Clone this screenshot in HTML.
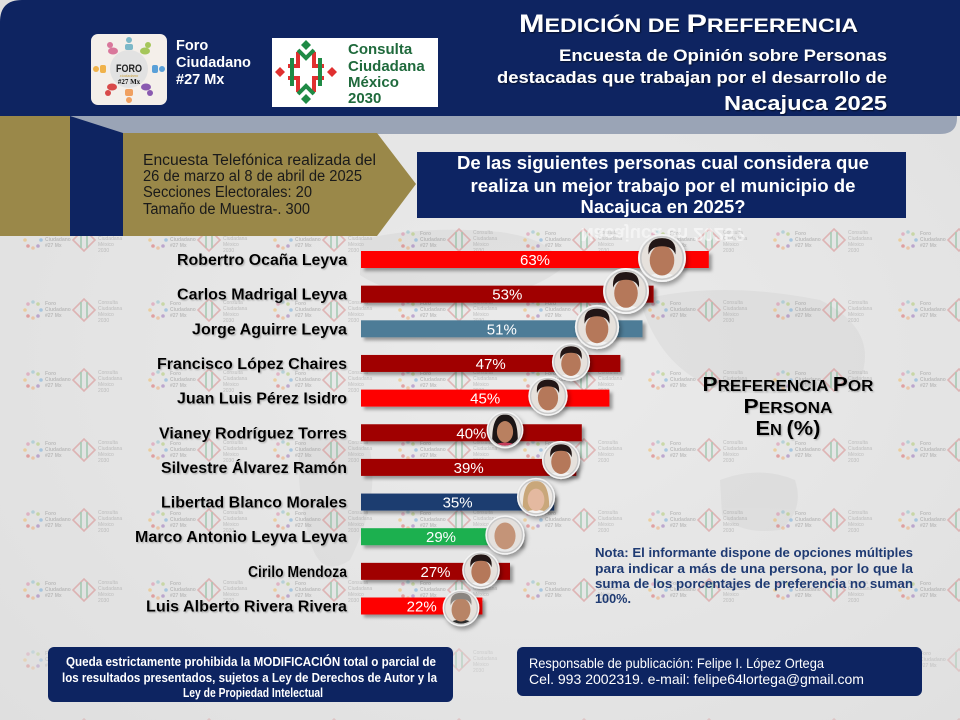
<!DOCTYPE html>
<html><head><meta charset="utf-8">
<style>html,body{margin:0;padding:0;width:960px;height:720px;overflow:hidden;background:#e5e5e5}svg{display:block}</style>
</head><body>
<svg width="960" height="720" viewBox="0 0 960 720" xmlns="http://www.w3.org/2000/svg" xmlns:xlink="http://www.w3.org/1999/xlink" font-family="'Liberation Sans', Arial, sans-serif">
<defs>
 <radialGradient id="bg" cx="0.55" cy="0.5" r="0.8"><stop offset="0" stop-color="#ebebeb"/><stop offset="1" stop-color="#dedede"/></radialGradient>
 <pattern id="wm" width="125" height="70" patternUnits="userSpaceOnUse" x="18" y="226">
  <g opacity="0.45">
   <circle cx="10" cy="8" r="1.8" fill="#d9779b"/><circle cx="15" cy="6" r="1.8" fill="#7cb8c8"/><circle cx="20" cy="8" r="1.8" fill="#a6c65a"/>
   <circle cx="7" cy="14" r="1.8" fill="#f0b24a"/><circle cx="23" cy="14" r="1.8" fill="#5aa0d8"/>
   <circle cx="10" cy="20" r="1.8" fill="#d84a4a"/><circle cx="15" cy="22" r="1.8" fill="#f0a060"/><circle cx="20" cy="20" r="1.8" fill="#8a5ab0"/>
   <text x="27" y="9" font-size="5" font-weight="bold" fill="#888">Foro</text>
   <text x="27" y="15" font-size="5" font-weight="bold" fill="#888">Ciudadano</text>
   <text x="27" y="21" font-size="5" font-weight="bold" fill="#888">#27 Mx</text>
   <path d="M66,3 L77,14 L66,25 L55,14Z" fill="none" stroke="#d47878" stroke-width="1.6"/>
   <path d="M63,6 V22 M69,6 V22" stroke="#5aa878" stroke-width="1.6"/>
   <text x="80" y="8" font-size="5" fill="#888">Consulta</text>
   <text x="80" y="14" font-size="5" fill="#888">Ciudadana</text>
   <text x="80" y="20" font-size="5" fill="#888">México</text>
   <text x="80" y="26" font-size="5" fill="#888">2030</text>
  </g>
 </pattern>
 <filter id="sh" x="-10%" y="-40%" width="130%" height="200%"><feDropShadow dx="3" dy="3" stdDeviation="1.5" flood-color="#000" flood-opacity="0.35"/></filter>
 <filter id="fsh" x="-40%" y="-40%" width="180%" height="180%"><feDropShadow dx="2" dy="3" stdDeviation="2" flood-color="#000" flood-opacity="0.35"/></filter>
 <filter id="tsh" x="-5%" y="-20%" width="110%" height="150%"><feDropShadow dx="1.2" dy="1.2" stdDeviation="0.7" flood-color="#999" flood-opacity="0.7"/></filter>
 <filter id="wsh" x="-5%" y="-20%" width="110%" height="150%"><feDropShadow dx="1" dy="1" stdDeviation="0.8" flood-color="#000" flood-opacity="0.6"/></filter>
 <clipPath id="fc"><circle r="17.5"/></clipPath>
 <g id="fm">
  <circle r="19.5" fill="#d8d8d8" stroke="#f4f4f4" stroke-width="2"/>
  <g clip-path="url(#fc)">
   <rect x="-20" y="-20" width="40" height="40" fill="#e6e1dc"/>
   <ellipse cx="0" cy="23" rx="18" ry="10" fill="#f2f2f2"/>
   <ellipse cx="0" cy="2" rx="10.5" ry="13" fill="#b5785a"/>
   <path d="M-11.5,-3 Q-13,-17 0,-17 Q13,-17 11.5,-3 Q9,-10 0,-10 Q-9,-10 -11.5,-3Z" fill="#221814"/>
  </g>
  <circle r="18.2" fill="none" stroke="#c8c8c8" stroke-width="1.4"/>
 </g>
 <g id="ff">
  <circle r="19.5" fill="#d8d8d8" stroke="#f4f4f4" stroke-width="2"/>
  <g clip-path="url(#fc)">
   <rect x="-20" y="-20" width="40" height="40" fill="#e6e1dc"/>
   <path d="M-14,20 Q-16,-18 0,-17 Q16,-18 14,20Z" fill="#1c1412"/>
   <ellipse cx="0" cy="23" rx="18" ry="9" fill="#c43a5a"/>
   <ellipse cx="0" cy="2" rx="9" ry="12" fill="#b98060"/>
  </g>
  <circle r="18.2" fill="none" stroke="#c8c8c8" stroke-width="1.4"/>
 </g>
 <g id="fb">
  <circle r="19.5" fill="#d8d8d8" stroke="#f4f4f4" stroke-width="2"/>
  <g clip-path="url(#fc)">
   <rect x="-20" y="-20" width="40" height="40" fill="#ece8e4"/>
   <path d="M-14,20 Q-16,-18 0,-17 Q16,-18 14,20Z" fill="#c9a77a"/>
   <ellipse cx="0" cy="23" rx="18" ry="9" fill="#f4f4f4"/>
   <ellipse cx="0" cy="3" rx="9" ry="12" fill="#e4b9a0"/>
  </g>
  <circle r="18.2" fill="none" stroke="#c8c8c8" stroke-width="1.4"/>
 </g>
 <g id="fz">
  <circle r="19.5" fill="#d8d8d8" stroke="#f4f4f4" stroke-width="2"/>
  <g clip-path="url(#fc)">
   <rect x="-20" y="-20" width="40" height="40" fill="#e4e0dc"/>
   <ellipse cx="0" cy="23" rx="18" ry="10" fill="#e8e8e8"/>
   <ellipse cx="0" cy="1" rx="11" ry="14" fill="#c49478"/>
  </g>
  <circle r="18.2" fill="none" stroke="#c8c8c8" stroke-width="1.4"/>
 </g>
 <g id="fg">
  <circle r="19.5" fill="#d8d8d8" stroke="#f4f4f4" stroke-width="2"/>
  <g clip-path="url(#fc)">
   <rect x="-20" y="-20" width="40" height="40" fill="#e6e1dc"/>
   <ellipse cx="0" cy="23" rx="18" ry="10" fill="#2a2a2a"/>
   <ellipse cx="0" cy="2" rx="10.5" ry="13" fill="#b88466"/>
   <path d="M-11.5,-3 Q-13,-17 0,-17 Q13,-17 11.5,-3 Q9,-10 0,-10 Q-9,-10 -11.5,-3Z" fill="#8a8580"/>
  </g>
  <circle r="18.2" fill="none" stroke="#c8c8c8" stroke-width="1.4"/>
 </g>
</defs>

<!-- background -->
<rect width="960" height="720" fill="url(#bg)"/>
<g fill="#d2d2d2" opacity="0.4">
 <path d="M360,240 Q420,225 500,232 Q560,240 560,270 Q520,300 450,300 Q390,295 360,275Z"/>
 <path d="M300,440 Q340,430 370,450 Q380,500 350,560 Q320,580 310,540 Q295,490 300,440Z"/>
 <path d="M640,300 Q720,280 820,300 Q880,330 860,380 Q800,400 720,390 Q660,370 640,300Z"/>
 <path d="M720,480 Q760,465 795,480 Q805,510 780,530 Q740,535 722,515Z"/>
</g>
<rect x="0" y="226" width="960" height="420" fill="url(#wm)"/>
<rect x="0" y="640" width="960" height="80" fill="url(#wm)" opacity="0.6"/>

<!-- header -->
<path d="M70,112 H957 V118 Q957,134 940,134 H70Z" fill="#9aa4b6"/>
<path d="M22,0 H960 V116 H0 V22 Q0,0 22,0Z" fill="#0e2461"/>
<rect x="0" y="116" width="70" height="120" fill="#9a8849"/>
<polygon points="70,116 123,133 123,236 70,236" fill="#0e2461"/>
<polygon points="123,133 377,133 416,184 377,236 123,236" fill="#9a8849"/>

<!-- Foro logo -->
<rect x="91" y="34" width="76" height="71" rx="7" fill="#f4efea"/>
<circle cx="129" cy="69" r="19" fill="#e2e2e2"/>
<g>
 <circle cx="110" cy="45" r="3" fill="#d9779b"/><ellipse cx="113" cy="51" rx="5" ry="3.5" fill="#d9779b"/>
 <circle cx="129" cy="40" r="3" fill="#7cb8c8"/><rect x="125" y="44" width="8" height="6" rx="2" fill="#7cb8c8"/>
 <circle cx="148" cy="45" r="3" fill="#a6c65a"/><ellipse cx="145" cy="51" rx="5" ry="3.5" fill="#a6c65a"/>
 <circle cx="96" cy="69" r="3" fill="#f0b24a"/><rect x="100" y="65" width="6" height="8" rx="2" fill="#f0b24a"/>
 <circle cx="162" cy="69" r="3" fill="#5aa0d8"/><rect x="152" y="65" width="6" height="8" rx="2" fill="#5aa0d8"/>
 <circle cx="108" cy="93" r="3" fill="#d84a4a"/><ellipse cx="112" cy="87" rx="5" ry="3.5" fill="#d84a4a"/>
 <circle cx="129" cy="100" r="3" fill="#f0a060"/><rect x="125" y="89" width="8" height="7" rx="2" fill="#f0a060"/>
 <circle cx="150" cy="93" r="3" fill="#8a5ab0"/><ellipse cx="146" cy="87" rx="5" ry="3.5" fill="#8a5ab0"/>
</g>
<text x="129" y="72" font-size="11" font-weight="bold" fill="#222" text-anchor="middle" textLength="26" lengthAdjust="spacingAndGlyphs">FORO</text>
<text x="129" y="77" font-size="4" fill="#c8a040" text-anchor="middle" font-style="italic">ciudadano</text>
<text x="129" y="84" font-size="7" font-weight="bold" fill="#111" text-anchor="middle" font-family="'Liberation Serif', serif">#27 Mx</text>
<text font-size="14.5" font-weight="bold" fill="#fff">
 <tspan x="176" y="50">Foro</tspan><tspan x="176" y="67">Ciudadano</tspan><tspan x="176" y="84">#27 Mx</tspan>
</text>

<!-- Consulta logo -->
<rect x="272" y="38" width="166" height="69" fill="#fff"/>
<g>
 <path d="M306,40 l5,5 l-5,5 l-5,-5Z M306,94 l5,5 l-5,5 l-5,-5Z" fill="#1f8a45"/>
 <path d="M275,72 l5,-5 l5,5 l-5,5Z M327,72 l5,-5 l5,5 l-5,5Z" fill="#e03030"/>
 <path d="M298,52 V66 H288 M314,52 V66 H324 M298,92 V78 H288 M314,92 V78 H324" fill="none" stroke="#e03030" stroke-width="4"/>
 <path d="M298,50 L306,58 L314,50 M298,94 L306,86 L314,94 M292,58 V86 M320,58 V86" fill="none" stroke="#1f8a45" stroke-width="4"/>
</g>
<text font-size="15" font-weight="bold" fill="#1f6a3c">
 <tspan x="348" y="54">Consulta</tspan><tspan x="348" y="71">Ciudadana</tspan><tspan x="348" y="87">México</tspan><tspan x="348" y="103">2030</tspan>
</text>

<!-- header title -->
<g filter="url(#wsh)" fill="#fff" font-weight="bold">
 <text x="519" y="32" textLength="339" lengthAdjust="spacingAndGlyphs"><tspan font-size="25">M</tspan><tspan font-size="19">EDICIÓN DE </tspan><tspan font-size="25">P</tspan><tspan font-size="19">REFERENCIA</tspan></text>
 <text x="887" y="61" font-size="17" text-anchor="end" textLength="328" lengthAdjust="spacingAndGlyphs">Encuesta de Opinión sobre Personas</text>
 <text x="887" y="83" font-size="17" text-anchor="end" textLength="390" lengthAdjust="spacingAndGlyphs">destacadas que trabajan por el desarrollo de</text>
 <text x="887" y="110" font-size="20.5" text-anchor="end" textLength="163" lengthAdjust="spacingAndGlyphs">Nacajuca 2025</text>
</g>

<!-- info text -->
<g font-size="15.5" fill="#1a1a1a">
 <text x="143" y="165" textLength="233" lengthAdjust="spacingAndGlyphs">Encuesta Telefónica realizada del</text>
 <text x="143" y="181" textLength="219" lengthAdjust="spacingAndGlyphs">26 de marzo al 8 de abril de 2025</text>
 <text x="143" y="197" textLength="169" lengthAdjust="spacingAndGlyphs">Secciones Electorales: 20</text>
 <text x="143" y="214" textLength="167" lengthAdjust="spacingAndGlyphs">Tamaño de Muestra-. 300</text>
</g>

<!-- question -->
<rect x="417" y="152" width="489" height="66" fill="#0d2463"/>
<g font-size="18" font-weight="bold" fill="#fff" text-anchor="middle">
 <text x="663" y="169" textLength="412" lengthAdjust="spacingAndGlyphs">De las siguientes personas cual considera que</text>
 <text x="663" y="192" textLength="385" lengthAdjust="spacingAndGlyphs">realiza un mejor trabajo por el municipio de</text>
 <text x="663" y="213" textLength="165" lengthAdjust="spacingAndGlyphs">Nacajuca en 2025?</text>
</g>
<text transform="translate(0,441) scale(1,-1)" x="663" y="213" font-size="18" font-weight="bold" fill="#fff" opacity="0.55" text-anchor="middle" textLength="165" lengthAdjust="spacingAndGlyphs">Nacajuca en 2025?</text>

<!-- bars -->
<g filter="url(#sh)">
 <rect x="361" y="251" width="347.8" height="17" fill="#fe0000"/>
 <rect x="361" y="285.65" width="292.6" height="17" fill="#a00000"/>
 <rect x="361" y="320.3" width="281.5" height="17" fill="#4d7b97"/>
 <rect x="361" y="354.95" width="259.4" height="17" fill="#a00000"/>
 <rect x="361" y="389.6" width="248.4" height="17" fill="#fe0000"/>
 <rect x="361" y="424.25" width="220.8" height="17" fill="#a00000"/>
 <rect x="361" y="458.9" width="215.3" height="17" fill="#a00000"/>
 <rect x="361" y="493.55" width="193.2" height="17" fill="#1f3c70"/>
 <rect x="361" y="528.2" width="160.1" height="17" fill="#1db04f"/>
 <rect x="361" y="562.85" width="149" height="17" fill="#a00000"/>
 <rect x="361" y="597.5" width="121.4" height="17" fill="#fe0000"/>
</g>
<g font-size="15" fill="#fff" text-anchor="middle">
 <text x="535" y="265">63%</text>
 <text x="507.3" y="299.6">53%</text>
 <text x="501.8" y="334.3">51%</text>
 <text x="490.7" y="369">47%</text>
 <text x="485.2" y="403.6">45%</text>
 <text x="471.4" y="438.3">40%</text>
 <text x="468.7" y="472.9">39%</text>
 <text x="457.6" y="507.6">35%</text>
 <text x="441" y="542.2">29%</text>
 <text x="435.5" y="576.9">27%</text>
 <text x="421.7" y="611.5">22%</text>
</g>

<!-- labels -->
<g font-size="16" font-weight="bold" fill="#000" text-anchor="end" filter="url(#tsh)">
 <text x="347" y="265" textLength="170" lengthAdjust="spacingAndGlyphs">Robertro Ocaña Leyva</text>
 <text x="347" y="299.6" textLength="170" lengthAdjust="spacingAndGlyphs">Carlos Madrigal Leyva</text>
 <text x="347" y="334.3" textLength="155" lengthAdjust="spacingAndGlyphs">Jorge Aguirre Leyva</text>
 <text x="347" y="369" textLength="190" lengthAdjust="spacingAndGlyphs">Francisco López Chaires</text>
 <text x="347" y="403.6" textLength="170" lengthAdjust="spacingAndGlyphs">Juan Luis Pérez Isidro</text>
 <text x="347" y="438.3" textLength="188" lengthAdjust="spacingAndGlyphs">Vianey Rodríguez Torres</text>
 <text x="347" y="472.9" textLength="186" lengthAdjust="spacingAndGlyphs">Silvestre Álvarez Ramón</text>
 <text x="347" y="507.6" textLength="186" lengthAdjust="spacingAndGlyphs">Libertad Blanco Morales</text>
 <text x="347" y="542.2" textLength="212" lengthAdjust="spacingAndGlyphs">Marco Antonio Leyva Leyva</text>
 <text x="347" y="576.9" textLength="99" lengthAdjust="spacingAndGlyphs">Cirilo Mendoza</text>
 <text x="347" y="611.5" textLength="201" lengthAdjust="spacingAndGlyphs">Luis Alberto Rivera Rivera</text>
</g>

<!-- faces -->
<g filter="url(#fsh)">
 <use xlink:href="#fm" href="#fm" transform="translate(662,258) scale(1.17)"/>
 <use xlink:href="#fm" href="#fm" transform="translate(626,291) scale(1.12)"/>
 <use xlink:href="#fm" href="#fm" transform="translate(597,327) scale(1.08)"/>
 <use xlink:href="#fm" href="#fm" transform="translate(571,362) scale(0.93)"/>
 <use xlink:href="#fm" href="#fm" transform="translate(548,396) scale(0.96)"/>
 <use xlink:href="#ff" href="#ff" transform="translate(505,430) scale(0.9)"/>
 <use xlink:href="#fm" href="#fm" transform="translate(561,460) scale(0.93)"/>
 <use xlink:href="#fb" href="#fb" transform="translate(536,497) scale(0.93)"/>
 <use xlink:href="#fz" href="#fz" transform="translate(505,535) scale(0.96)"/>
 <use xlink:href="#fm" href="#fm" transform="translate(481,570) scale(0.92)"/>
 <use xlink:href="#fg" href="#fg" transform="translate(461,608) scale(0.9)"/>
</g>

<!-- right title -->
<g font-weight="bold" fill="#000" text-anchor="middle" filter="url(#tsh)">
 <text x="788" y="391" textLength="171" lengthAdjust="spacingAndGlyphs"><tspan font-size="20.5">P</tspan><tspan font-size="15.5">REFERENCIA </tspan><tspan font-size="20.5">P</tspan><tspan font-size="15.5">OR</tspan></text>
 <text x="788" y="413" textLength="89" lengthAdjust="spacingAndGlyphs"><tspan font-size="20.5">P</tspan><tspan font-size="15.5">ERSONA</tspan></text>
 <text x="788" y="435" textLength="65" lengthAdjust="spacingAndGlyphs"><tspan font-size="20.5">E</tspan><tspan font-size="15.5">N </tspan><tspan font-size="20.5">(%)</tspan></text>
</g>

<!-- nota -->
<g font-size="13" font-weight="bold" fill="#1f3b73">
 <text x="595" y="557" textLength="318" lengthAdjust="spacingAndGlyphs">Nota: El informante dispone de opciones múltiples</text>
 <text x="595" y="573" textLength="318" lengthAdjust="spacingAndGlyphs">para indicar a más de una persona, por lo que la</text>
 <text x="595" y="588" textLength="318" lengthAdjust="spacingAndGlyphs">suma de los porcentajes de preferencia no suman</text>
 <text x="595" y="603" textLength="36" lengthAdjust="spacingAndGlyphs">100%.</text>
</g>

<!-- footer -->
<rect x="48" y="647" width="405" height="55" rx="6" fill="#0d2461"/>
<g font-size="12.5" font-weight="bold" fill="#fff">
 <text x="66" y="666" textLength="370" lengthAdjust="spacingAndGlyphs">Queda estrictamente prohibida la MODIFICACIÓN  total o parcial de</text>
 <text x="62" y="682" textLength="375" lengthAdjust="spacingAndGlyphs">los resultados presentados, sujetos a Ley de Derechos de Autor y la</text>
 <text x="253" y="697" text-anchor="middle" textLength="140" lengthAdjust="spacingAndGlyphs">Ley de Propiedad Intelectual</text>
</g>
<rect x="517" y="647" width="405" height="49" rx="6" fill="#0d2461"/>
<g font-size="14" fill="#fff">
 <text x="529" y="668" textLength="295" lengthAdjust="spacingAndGlyphs">Responsable de publicación: Felipe I. López Ortega</text>
 <text x="529" y="684" textLength="335" lengthAdjust="spacingAndGlyphs">Cel. 993 2002319. e-mail: felipe64lortega@gmail.com</text>
</g>
</svg>
</body></html>
